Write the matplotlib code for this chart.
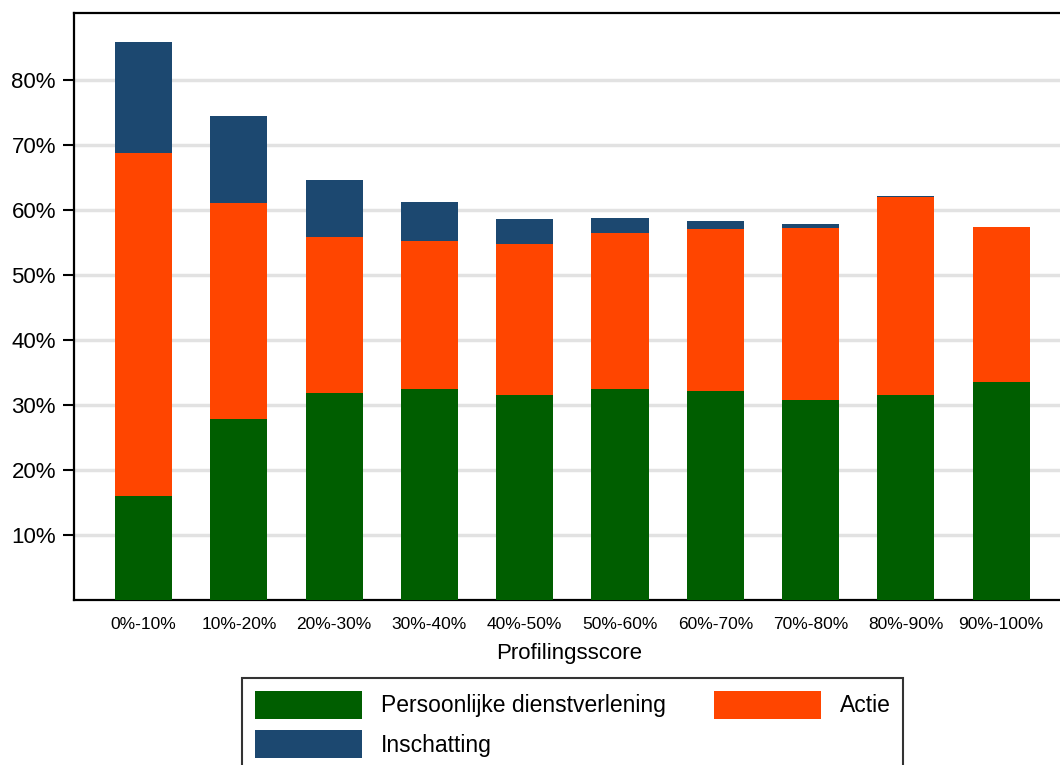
import numpy as np
import matplotlib
matplotlib.use('Agg')
import matplotlib.pyplot as plt
from matplotlib.ticker import FuncFormatter

plt.rcParams['font.family'] = ['Liberation Sans', 'DejaVu Sans']

# Data (percentages, stacked segments)
categories = ["0%-10%", "10%-20%", "20%-30%", "30%-40%", "40%-50%",
              "50%-60%", "60%-70%", "70%-80%", "80%-90%", "90%-100%"]
persoonlijke = [16.0, 27.8, 31.9, 32.5, 31.5, 32.5, 32.2, 30.7, 31.6, 33.5]
actie = [52.8, 33.3, 23.9, 22.8, 23.3, 24.0, 24.9, 26.6, 30.4, 23.9]
inschatting = [17.0, 13.3, 8.8, 5.9, 3.8, 2.3, 1.2, 0.5, 0.15, 0.0]
y_ticks = [10, 20, 30, 40, 50, 60, 70, 80]

green = '#005E00'
orange = '#FF4500'
blue = '#1C4870'

W, H = 1060, 765
fig = plt.figure(figsize=(W / 100, H / 100), dpi=100)
ax = fig.add_axes([74 / W, 1 - 600 / H, (1064 - 74) / W, (600 - 13) / H])

x = np.arange(len(categories))
bottom2 = np.array(persoonlijke)
bottom3 = bottom2 + np.array(actie)

b1 = ax.bar(x, persoonlijke, width=0.6, color=green, zorder=3,
            label="Persoonlijke dienstverlening")
b2 = ax.bar(x, actie, width=0.6, bottom=bottom2, color=orange, zorder=3,
            label="Actie")
b3 = ax.bar(x, inschatting, width=0.6, bottom=bottom3, color=blue, zorder=3,
            label="Inschatting")

ax.set_xlim(-0.73, 9.66)
ax.set_ylim(0, 90.3)

ax.set_yticks(y_ticks)
ax.yaxis.set_major_formatter(FuncFormatter(lambda v, p: "%d%%" % v))
ax.tick_params(axis='y', labelsize=16, length=8, width=1.5, pad=5)
ax.set_xticks(x)
ax.set_xticklabels(categories)
ax.tick_params(axis='x', labelsize=12.5, length=0, pad=12)

ax.set_xlabel("Profilingsscore", fontsize=16, labelpad=8)

# gridlines
ax.yaxis.grid(True, color='#E2E2E2', linewidth=2.5, zorder=0)
ax.set_axisbelow(True)

for side in ['left', 'bottom', 'top']:
    ax.spines[side].set_linewidth(1.6)
    ax.spines[side].set_color('black')
ax.spines['right'].set_visible(False)

# legend (cropped at the figure bottom like the reference)
handles = [b1, b3, b2]
labels = ["Persoonlijke dienstverlening", "Inschatting", "Actie"]
leg = fig.legend(handles, labels, ncol=2, loc='upper left',
                 bbox_to_anchor=(242 / W, 1 - 678 / H),
                 fontsize=16.5, frameon=True, fancybox=False,
                 handlelength=4.7, handleheight=1.55, handletextpad=0.8,
                 columnspacing=2.1, labelspacing=0.45, borderpad=0.55,
                 borderaxespad=0)
leg.get_frame().set_edgecolor('black')
leg.get_frame().set_linewidth(1.5)

fig.savefig('out.png', dpi=100)
